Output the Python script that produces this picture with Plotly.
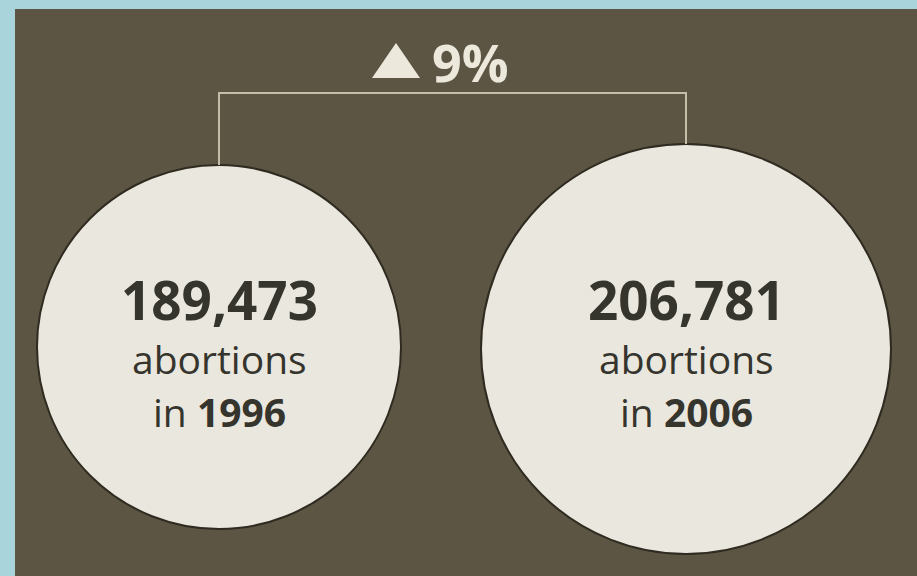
import plotly.graph_objects as go

# ---- data ----
years = [1996, 2006]
abortions = [189473, 206781]
unit_label = "abortions"

# ---- layout / style constants ----
W, H = 917, 576
M_L, M_T = 15, 9
FRAME = "#a9d4dc"
BG = "#5d5544"
CIRCLE_FILL = "#e9e7de"
CIRCLE_EDGE = "#2f2b20"
TEXT_DARK = "#35342d"
LIGHT = "#ece9dc"
BRACKET = "#c4bea8"

circle_cx_px = [219, 686]          # page pixel centres of circles
circle_cy_px = [347, 349]
circle_d_px = [364, 410]           # circle diameters in pixels

# x axis: index 0/1 mapped onto circle centres
px_per_unit = circle_cx_px[1] - circle_cx_px[0]
x0 = -(circle_cx_px[0] - M_L) / px_per_unit
x1 = 1 + (W - circle_cx_px[1]) / px_per_unit

def xpx(px):
    return (px - circle_cx_px[0]) / px_per_unit

idx = list(range(len(years)))

fig = go.Figure()

# circles
fig.add_trace(go.Scatter(
    x=idx, y=circle_cy_px, mode="markers",
    marker=dict(size=circle_d_px, color=CIRCLE_FILL, opacity=1,
                line=dict(color=CIRCLE_EDGE, width=2)),
    hoverinfo="skip", showlegend=False,
))

# bracket connecting circles
top0 = circle_cy_px[0] - circle_d_px[0] / 2
top1 = circle_cy_px[1] - circle_d_px[1] / 2
bracket_y = 93
fig.add_trace(go.Scatter(
    x=[idx[0], idx[0], idx[1], idx[1]],
    y=[top0, bracket_y, bracket_y, top1],
    mode="lines", line=dict(color=BRACKET, width=2),
    hoverinfo="skip", showlegend=False,
))

annotations = []
for i, (yr, val) in enumerate(zip(years, abortions)):
    annotations.append(dict(
        x=i, y=299, xref="x", yref="y", text=f"<b>{val:,}</b>",
        showarrow=False, font=dict(family="Open Sans", size=53, color=TEXT_DARK),
        xanchor="center", yanchor="middle"))
    annotations.append(dict(
        x=i, y=358, xref="x", yref="y", text=unit_label,
        showarrow=False, font=dict(family="Open Sans", size=39, color=TEXT_DARK),
        xanchor="center", yanchor="middle"))
    annotations.append(dict(
        x=i, y=411, xref="x", yref="y", text=f"in <b>{yr}</b>",
        showarrow=False, font=dict(family="Open Sans", size=39, color=TEXT_DARK),
        xanchor="center", yanchor="middle"))

pct = round((abortions[1] - abortions[0]) / abortions[0] * 100)
annotations.append(dict(
    x=xpx(430), y=61, xref="x", yref="y", text=f"<b>{pct}%</b>",
    showarrow=False, font=dict(family="Open Sans", size=52, color=LIGHT),
    xanchor="left", yanchor="middle"))

# up-triangle marker next to percentage
tri_l, tri_r, tri_top, tri_base = 372, 420, 43, 78
shapes = [dict(
    type="path", xref="x", yref="y",
    path=f"M {xpx(tri_l)} {tri_base} L {xpx(tri_r)} {tri_base} L {xpx((tri_l + tri_r) / 2)} {tri_top} Z",
    fillcolor=LIGHT, line=dict(width=0))]

fig.update_layout(
    width=W, height=H,
    margin=dict(l=M_L, t=M_T, r=0, b=0, pad=0),
    paper_bgcolor=FRAME, plot_bgcolor=BG,
    xaxis=dict(range=[x0, x1], visible=False, fixedrange=True),
    yaxis=dict(range=[H, M_T], visible=False, fixedrange=True),
    annotations=annotations, shapes=shapes,
    showlegend=False,
)

fig.write_html("out.html", config=dict(displayModeBar=False))
